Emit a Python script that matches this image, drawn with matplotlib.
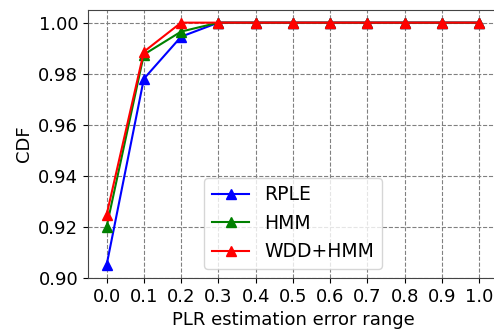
import matplotlib
matplotlib.use("Agg")
import matplotlib.pyplot as plt
import numpy as np

# error range bins
err_range = [0.0, 0.1, 0.2, 0.3, 0.4, 0.5, 0.6, 0.7, 0.8, 0.9, 1.0]
rple = [0.905, 0.978, 0.9945, 1.0, 1.0, 1.0, 1.0, 1.0, 1.0, 1.0, 1.0]
hmm = [0.920, 0.9875, 0.9965, 1.0, 1.0, 1.0, 1.0, 1.0, 1.0, 1.0, 1.0]
wdd_hmm = [0.9247, 0.9886, 1.0, 1.0, 1.0, 1.0, 1.0, 1.0, 1.0, 1.0, 1.0]

fig = plt.figure(figsize=(4.94, 3.29), dpi=100)
ax = fig.add_axes([0.178, 0.155, 0.83, 0.815])

ax.plot(err_range, rple, color='blue', marker='^', markersize=7, linewidth=1.5, label='RPLE')
ax.plot(err_range, hmm, color='green', marker='^', markersize=7, linewidth=1.5, label='HMM')
ax.plot(err_range, wdd_hmm, color='red', marker='^', markersize=7, linewidth=1.5, label='WDD+HMM')

ax.set_xlim(-0.05, 1.05)
ax.set_ylim(0.9, 1.005)
ax.set_xticks(err_range)
ax.set_yticks([0.90, 0.92, 0.94, 0.96, 0.98, 1.00])
ax.set_xticklabels(['%.1f' % v for v in err_range])
ax.set_yticklabels(['%.2f' % v for v in [0.90, 0.92, 0.94, 0.96, 0.98, 1.00]])
ax.tick_params(labelsize=13)
ax.set_xlabel('PLR estimation error range', fontsize=13)
ax.set_ylabel('CDF', fontsize=13)
ax.grid(True, linestyle='--', color='gray')
for s in ax.spines.values():
    s.set_color('#444444')

ax.legend(loc='lower center', bbox_to_anchor=(0.5, 0.0), fontsize=13.5)

fig.savefig('out.png', dpi=100)
